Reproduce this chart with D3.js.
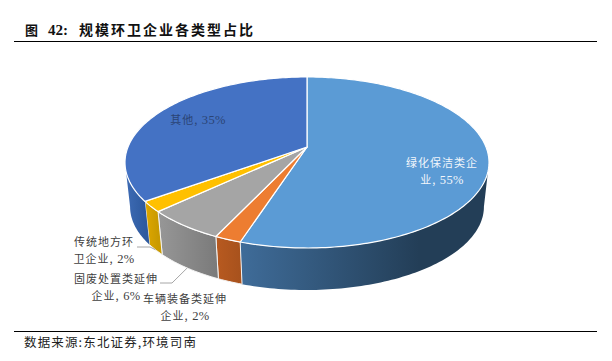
<!DOCTYPE html>
<html>
<head>
<meta charset="utf-8">
<script src="https://cdn.jsdelivr.net/npm/d3@7"></script>
<style>
  html, body { margin: 0; padding: 0; background: #fff; }
  svg { display: block; }
  text { font-family: "Noto Sans CJK SC", sans-serif; }
  .num { font-family: "Liberation Serif", serif; font-size: 12.5px; letter-spacing: 0.3px; }
</style>
</head>
<body>
<svg id="graph" width="612" height="361"></svg>
<script>
const categories = ['绿化保洁类企业', '车辆装备类延伸企业', '固废处置类延伸企业', '传统地方环卫企业', '其他'];
const shares = [55, 2, 6, 2, 35];
const topColors = ['#5b9bd5', '#ed7d31', '#a5a5a5', '#ffc000', '#4472c4'];
const sideFrom = ['#3f6c99', '#b85a20', '#979797', '#e0a800', '#3e6cb6'];
const sideTo = ['#233e57', '#a8521d', '#7b7b7b', '#c99a00', '#2e5a9f'];

// label lines, split the way the picture wraps them
const labelLines = [
  ['绿化保洁类企', '业, 55%'],
  ['车辆装备类延伸', '企业, 2%'],
  ['固废处置类延伸', '企业, 6%'],
  ['传统地方环', '卫企业, 2%'],
  ['其他, 35%']
];
const labelPos = [[442, 167], [185, 303], [116, 283], [104, 246], [198, 124]];
const labelColors = ['#f2f6fb', '#404040', '#404040', '#404040', '#2b4474'];

// perspective of the pie: k is how much nearer the front rim sits
const k = 0.181;
const top3d = { cx: 307, cy: 147, a: 179, b: 82.7 };
const bottom3d = { cx: 307, cy: 191.7, a: 174, b: 80.5 };

const project = (face, t) => {
  const v = -Math.cos(t);
  const d = 1 - k * v;
  return [face.cx + face.a * Math.sin(t) / d, face.cy + face.b * v / d];
};

const samples = (t0, t1) => {
  const n = Math.max(2, Math.ceil((t1 - t0) / 0.02));
  return d3.range(n + 1).map(i => t0 + (t1 - t0) * i / n);
};

const line = d3.line();
const svg = d3.select('#graph');
const defs = svg.append('defs');

const slices = d3.pie().sort(null).value(d => d)(shares);

// the wall is only visible between the two widest points of the rim
const wallStart = Math.acos(-k);
const wallEnd = 2 * Math.PI - wallStart;

const walls = slices.map((s, i) => {
  const t0 = Math.max(s.startAngle, wallStart);
  const t1 = Math.min(s.endAngle, wallEnd);
  return { i, t0, t1 };
}).filter(w => w.t1 > w.t0);

walls.forEach(w => {
  const xs = [project(top3d, w.t0)[0], project(top3d, w.t1)[0]];
  const g = defs.append('linearGradient')
    .attr('id', 'wall' + w.i)
    .attr('gradientUnits', 'userSpaceOnUse')
    .attr('x1', d3.min(xs)).attr('x2', d3.max(xs))
    .attr('y1', 0).attr('y2', 0);
  if (w.i === 0) {
    // big wall darkens quickly, then stays flat
    g.append('stop').attr('offset', 0).attr('stop-color', sideFrom[0]);
    g.append('stop').attr('offset', 0.72).attr('stop-color', sideTo[0]);
    g.append('stop').attr('offset', 1).attr('stop-color', sideTo[0]);
  } else {
    g.append('stop').attr('offset', 0).attr('stop-color', sideFrom[w.i]);
    g.append('stop').attr('offset', 1).attr('stop-color', sideTo[w.i]);
  }
});

svg.selectAll('path.wall')
  .data(walls)
  .enter()
  .append('path')
  .attr('class', 'wall')
  .attr('d', w => {
    const ts = samples(w.t0, w.t1);
    const upper = ts.map(t => project(top3d, t));
    const lower = ts.slice().reverse().map(t => project(bottom3d, t));
    return line(upper.concat(lower)) + 'Z';
  })
  .style('fill', w => `url(#wall${w.i})`)
  .style('stroke', w => (w.i === 0 || w.i === 4) ? 'none' : '#f4f4f4')
  .style('stroke-width', 1);

svg.selectAll('path.slice')
  .data(slices)
  .enter()
  .append('path')
  .attr('class', 'slice')
  .attr('d', s => {
    const rim = samples(s.startAngle, s.endAngle).map(t => project(top3d, t));
    return line([[top3d.cx, top3d.cy]].concat(rim)) + 'Z';
  })
  .style('fill', (s, i) => topColors[i])
  .style('stroke', '#fff')
  .style('stroke-width', 1.2)
  .style('stroke-linejoin', 'round');

// leader lines run from a wall's lower edge to the text beside it
const leaders = [
  { slice: 3, elbow: [150, 247], end: [137, 247] },
  { slice: 2, elbow: [172, 283], end: [160, 283] }
];
svg.selectAll('polyline.leader')
  .data(leaders)
  .enter()
  .append('polyline')
  .attr('class', 'leader')
  .attr('points', d => {
    const s = slices[d.slice];
    const from = project(bottom3d, (s.startAngle + s.endAngle) / 2);
    return [from, d.elbow, d.end].join(' ');
  })
  .style('fill', 'none')
  .style('stroke', '#a6a6a6')
  .style('stroke-width', 1);

// one tspan per run so digits get the serif face
const addRuns = (sel, str) => {
  str.split(/([0-9%]+)/).filter(Boolean).forEach(part => {
    sel.append('tspan')
      .attr('class', /[0-9]/.test(part) ? 'num' : null)
      .text(part);
  });
};

labelLines.forEach((lines, i) => {
  lines.forEach((str, j) => {
    const t = svg.append('text')
      .attr('x', labelPos[i][0])
      .attr('y', labelPos[i][1] + j * 16.5)
      .attr('text-anchor', 'middle')
      .style('font-size', '11px')
      .style('letter-spacing', '1px')
      .style('fill', labelColors[i]);
    addRuns(t, str);
  });
});

// heading and source
svg.append('line').attr('x1', 14).attr('x2', 597).attr('y1', 41.5).attr('y2', 41.5)
  .style('stroke', '#000').style('stroke-width', 1);
svg.append('line').attr('x1', 14).attr('x2', 597).attr('y1', 331.5).attr('y2', 331.5)
  .style('stroke', '#000').style('stroke-width', 1);

svg.append('text').attr('x', 25).attr('y', 35)
  .style('font-size', '13px').style('font-weight', 700).style('fill', '#111').text('图');
svg.append('text').attr('x', 48).attr('y', 35)
  .style('font-family', '"Liberation Serif", serif')
  .style('font-size', '15px').style('font-weight', 700).style('fill', '#111').text('42:');
svg.append('text').attr('x', 79).attr('y', 35)
  .style('font-size', '14px').style('font-weight', 700).style('letter-spacing', '2px')
  .style('fill', '#111').text('规模环卫企业各类型占比');
svg.append('text').attr('x', 24).attr('y', 347)
  .style('font-size', '12.5px').style('letter-spacing', '1.15px')
  .style('fill', '#222').text('数据来源:东北证券,环境司南');
</script>
</body>
</html>
